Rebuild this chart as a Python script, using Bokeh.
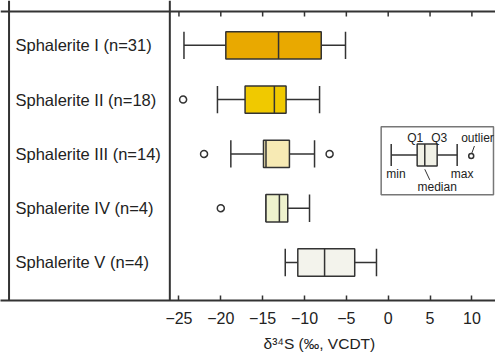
from bokeh.plotting import figure
from bokeh.models import Range1d, FixedTicker, Span, Title
from bokeh.core.properties import value
from bokeh.embed import file_html
from bokeh.resources import INLINE

# ---- data ----
names = ["Sphalerite I (n=31)", "Sphalerite II (n=18)", "Sphalerite III (n=14)",
         "Sphalerite IV (n=4)", "Sphalerite V (n=4)"]
ypos = [5, 4, 3, 2, 1]
mins = [-24.4, -20.4, -18.8, -14.6, -12.3]
q1s = [-19.4, -17.1, -14.9, -14.6, -10.8]
meds = [-13.1, -13.6, -14.6, -13.0, -7.6]
q3s = [-8.0, -12.2, -11.8, -12.0, -4.0]
maxs = [-5.1, -8.2, -8.8, -9.4, -1.4]
colors = ["#E9A900", "#F0C900", "#F7EAB4", "#EEF2CD", "#F3F3EC"]
out_x = [-24.5, -22.0, -7.0, -20.0]
out_y = [4, 3, 3, 2]
ticks = [-25, -20, -15, -10, -5, 0, 5, 10]
tick_labels = ["\u221225", "\u221220", "\u221215", "\u221210", "\u22125", "0", "5", "10"]
xlabel = "\u03b4\u00b3\u2074S (\u2030, VCDT)"

# legend schematic (illustrative values)
leg_min, leg_q1, leg_med, leg_q3, leg_max = 0.36, 3.46, 4.37, 5.85, 8.24
leg_out = 9.92
leg_texts = ["Q1", "Q3", "outlier", "min", "max", "median"]
leg_tx = [3.23, 6.09, 10.67, 0.93, 8.84, 5.85]
leg_ty = [3.30, 3.30, 3.30, 2.631, 2.631, 2.383]

FONT = value("Liberation Sans")
INK = "#333333"
BOXH = 0.505

p = figure(width=495, height=357, x_range=Range1d(-46.32, 12.82),
           y_range=Range1d(0.299, 5.826), output_backend="svg",
           toolbar_location=None, min_border_left=0, min_border_right=0,
           min_border_top=0, min_border_bottom=56)
p.yaxis.visible = False
p.grid.visible = False
p.outline_line_color = None
p.background_fill_color = "white"
p.border_fill_color = "white"

ax = p.xaxis[0]
ax.ticker = FixedTicker(ticks=ticks)
ax.major_label_overrides = {t: l for t, l in zip(ticks, tick_labels)}
ax.minor_tick_line_color = None
ax.major_tick_in = 5
ax.major_tick_out = 0
ax.major_tick_line_color = INK
ax.major_tick_line_width = 1.5
ax.axis_line_color = INK
ax.axis_line_width = 2
ax.major_label_text_font = "Liberation Sans"
ax.major_label_text_font_size = "16px"
ax.major_label_text_color = "#222222"
ax.major_label_standoff = 11

p.add_layout(Title(text=xlabel, align="left", offset=263, standoff=12,
                   text_font="Liberation Sans", text_font_size="15.5px",
                   text_font_style="normal", text_color="#222222"), "below")

# frame lines
y_top = 5.624
p.add_layout(Span(location=y_top, dimension="width", line_color=INK, line_width=2))
p.add_layout(Span(location=-45.30, dimension="height", line_color=INK, line_width=2))
p.add_layout(Span(location=-26.09, dimension="height", line_color=INK, line_width=2))
# top ticks
p.segment(x0=ticks, x1=ticks, y0=[y_top] * len(ticks), y1=[y_top - 0.092] * len(ticks),
          line_color=INK, line_width=1.5)

# whiskers
p.segment(x0=mins, x1=q1s, y0=ypos, y1=ypos, line_color=INK, line_width=1.5)
p.segment(x0=q3s, x1=maxs, y0=ypos, y1=ypos, line_color=INK, line_width=1.5)
lo = [y - BOXH / 2 for y in ypos]
hi = [y + BOXH / 2 for y in ypos]
p.segment(x0=mins, x1=mins, y0=lo, y1=hi, line_color=INK, line_width=1.5)
p.segment(x0=maxs, x1=maxs, y0=lo, y1=hi, line_color=INK, line_width=1.5)
# boxes
p.quad(left=q1s, right=q3s, bottom=lo, top=hi, fill_color=colors,
       line_color=INK, line_width=1.5)
p.segment(x0=meds, x1=meds, y0=lo, y1=hi, line_color=INK, line_width=1.5)
# outliers
p.scatter(out_x, out_y, marker="circle", size=7, fill_color="white",
          line_color=INK, line_width=1.5)

# category labels
p.text(x=[-44.53] * len(names), y=ypos, text=names, text_font=FONT,
       text_font_size="16.5px", text_baseline="middle", text_align="left",
       text_color="#222222")

# legend
p.quad(left=[-0.84], right=[12.58], bottom=[2.245], top=[3.50],
       fill_color="white", line_color="#777777", line_width=1.5)
ly = 2.98
lh = 0.404
p.segment(x0=[leg_min, leg_q3], x1=[leg_q1, leg_max], y0=[ly, ly], y1=[ly, ly],
          line_color=INK, line_width=1.5)
p.segment(x0=[leg_min, leg_max], x1=[leg_min, leg_max], y0=[ly - lh / 2] * 2,
          y1=[ly + lh / 2] * 2, line_color=INK, line_width=1.5)
p.quad(left=[leg_q1], right=[leg_q3], bottom=[ly - lh / 2], top=[ly + lh / 2],
       fill_color="#F1F1E6", line_color=INK, line_width=1.5)
p.segment(x0=[leg_med], x1=[leg_med], y0=[ly - lh / 2], y1=[ly + lh / 2],
          line_color=INK, line_width=1.5)
p.scatter([leg_out], [2.962], marker="circle", size=5, fill_color="white",
          line_color=INK, line_width=1.5)
# leaders
p.segment(x0=[leg_med, 10.0], x1=[4.97, 10.3], y0=[2.717, 3.017], y1=[2.521, 3.145],
          line_color=INK, line_width=1)
p.text(x=leg_tx, y=leg_ty, text=leg_texts, text_font=FONT,
       text_font_size="12px", text_baseline="middle", text_align="center",
       text_color="#222222")

open("out.html", "w").write(file_html(p, INLINE))
